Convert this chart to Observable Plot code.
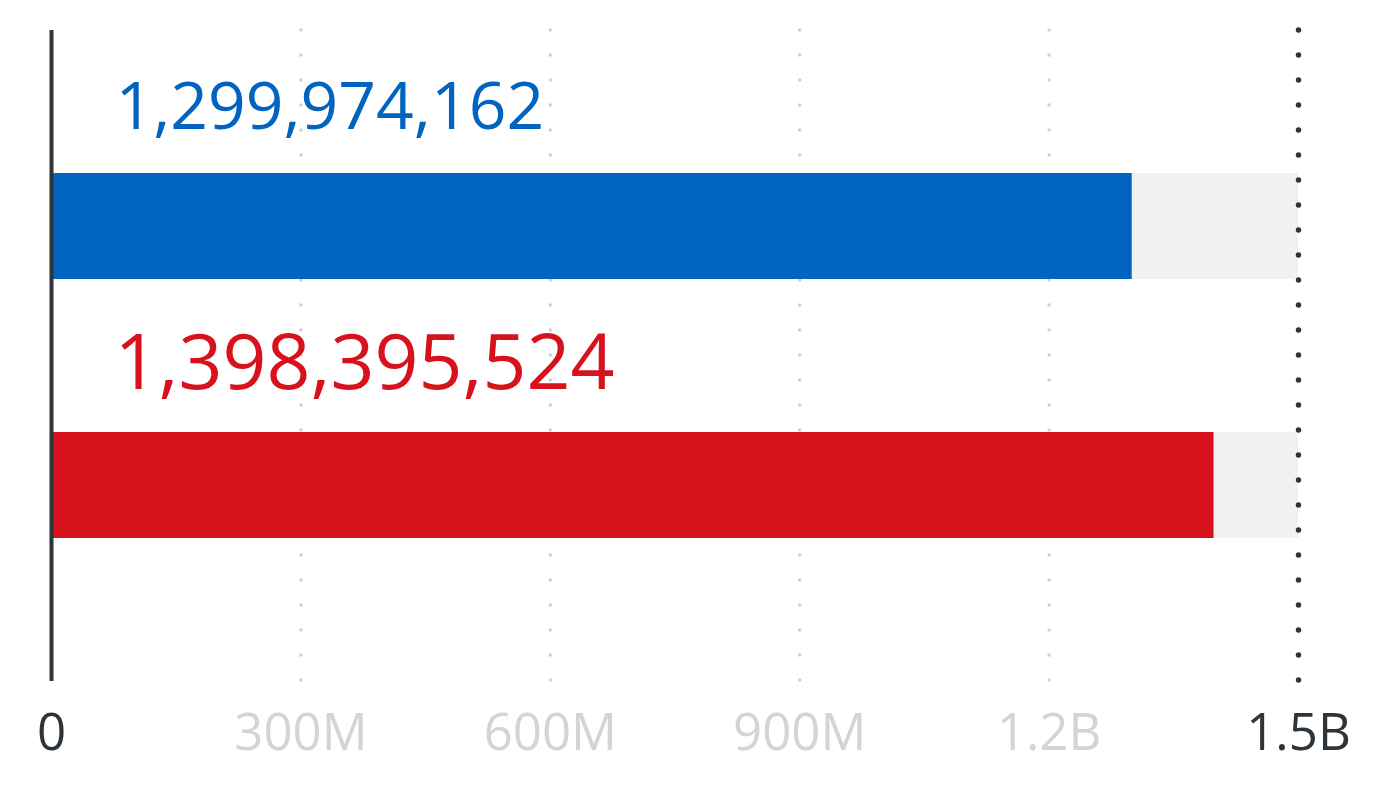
<!DOCTYPE html>
<html>
<head>
<meta charset="utf-8">
<script src="https://cdn.jsdelivr.net/npm/d3@7"></script>
<script src="https://cdn.jsdelivr.net/npm/@observablehq/plot@0.6"></script>
<style>
  html, body { margin: 0; padding: 0; background: #fff; }
  #chart svg { display: block; }
</style>
</head>
<body>
<div id="chart"></div>
<script>
const categories = ["A", "B"];
const values = [1299974162, 1398395524];
const colors = ["#0064c0", "#d7121c"];
const maxValue = 1.5e9;
const tickValues = [0, 3e8, 6e8, 9e8, 1.2e9, 1.5e9];
const tickLabels = ["0", "300M", "600M", "900M", "1.2B", "1.5B"];
const tickColors = ["#2d353b", "#d4d4d4", "#d4d4d4", "#d4d4d4", "#d4d4d4", "#2d353b"];

const data = categories.map((c, i) => ({category: c, value: values[i], color: colors[i]}));
const ticks = tickValues.map((v, i) => ({value: v, label: tickLabels[i], color: tickColors[i]}));
const fmt = d3.format(",");

const chart = Plot.plot({
  width: 1394,
  height: 800,
  marginLeft: 51,
  marginRight: 96,
  marginTop: 30,
  marginBottom: 118,
  style: {fontFamily: "'Open Sans', sans-serif", overflow: "visible", background: "#fff"},
  x: {domain: [0, maxValue], axis: null},
  y: {domain: categories, range: [173, 538], paddingInner: 0.591, paddingOuter: 0, axis: null},
  marks: [
    Plot.barX(data, {y: "category", x1: 0, x2: () => maxValue, fill: "#f0f1f1"}),
    Plot.ruleX(tickValues.slice(1, -1), {stroke: "#d0d0d0", strokeWidth: 3.5, strokeDasharray: "0,25", strokeLinecap: "round"}),
    Plot.barX(data, {y: "category", x1: 0, x2: "value", fill: "color"}),
    Plot.ruleX([maxValue], {stroke: "#2d353b", strokeWidth: 5.5, strokeDasharray: "0,25", strokeLinecap: "round"}),
    Plot.ruleX([0], {stroke: "#2d353b", strokeWidth: 4, insetBottom: 1}),
    Plot.text(data.slice(0, 1), {
      y: "category", x: 0, text: d => fmt(d.value), fill: "color",
      textAnchor: "start", dx: 64, dy: -119, fontSize: 66, lineAnchor: "middle"
    }),
    Plot.text(data.slice(1), {
      y: "category", x: 0, text: d => fmt(d.value), fill: "color",
      textAnchor: "start", dx: 63, dy: -121, fontSize: 77, lineAnchor: "middle"
    }),
    Plot.text(ticks, {
      x: "value", text: "label", fill: "color", frameAnchor: "bottom",
      dy: 51, fontSize: 51, lineAnchor: "middle", textAnchor: "middle"
    })
  ]
});
document.getElementById("chart").appendChild(chart);
</script>
</body>
</html>
